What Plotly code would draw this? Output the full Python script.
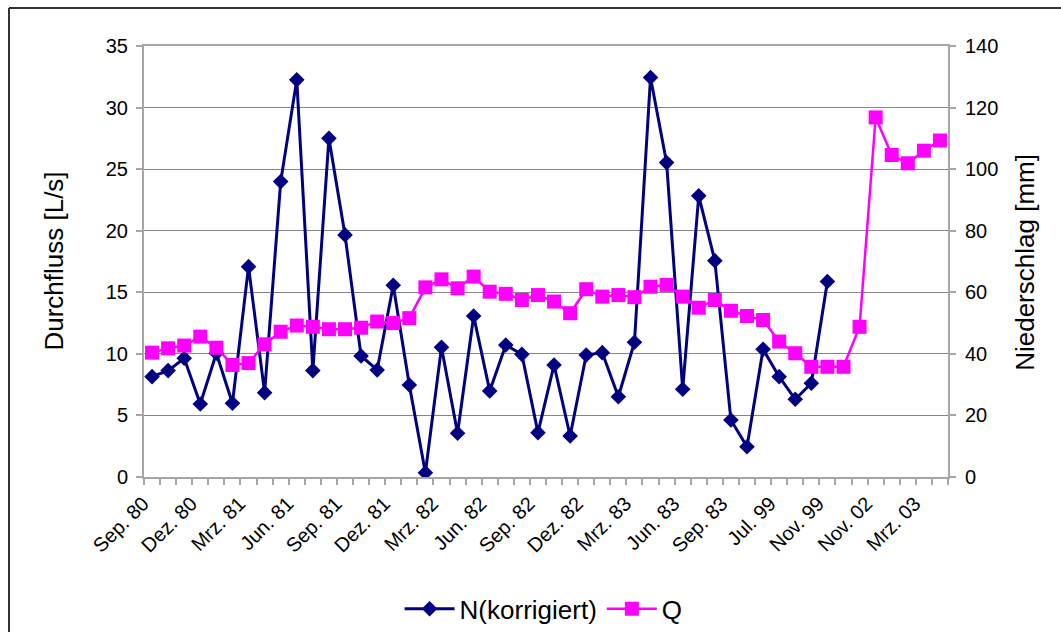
import plotly.graph_objects as go

# Monthly categories (labels shown on every third one)
months = [
    "Sep. 80", "Okt. 80", "Nov. 80", "Dez. 80", "Jan. 81", "Feb. 81",
    "Mrz. 81", "Apr. 81", "Mai 81", "Jun. 81", "Jul. 81", "Aug. 81",
    "Sep. 81", "Okt. 81", "Nov. 81", "Dez. 81", "Jan. 82", "Feb. 82",
    "Mrz. 82", "Apr. 82", "Mai 82", "Jun. 82", "Jul. 82", "Aug. 82",
    "Sep. 82", "Okt. 82", "Nov. 82", "Dez. 82", "Jan. 83", "Feb. 83",
    "Mrz. 83", "Apr. 83", "Mai 83", "Jun. 83", "Jul. 83", "Aug. 83",
    "Sep. 83", "Okt. 83", "Jun. 99", "Jul. 99", "Aug. 99", "Sep. 99",
    "Nov. 99", "Sep. 02", "Okt. 02", "Nov. 02", "Dez. 02", "Jan. 03",
    "Mrz. 03", "Apr. 03",
]

# N (korrigiert), left axis
n_korr = [
    8.15, 8.64, 9.64, 5.93, 10.05, 5.99, 17.08, 6.85, 23.99, 32.25,
    8.64, 27.5, 19.66, 9.83, 8.69, 15.57, 7.47, 0.35, 10.53, 3.55,
    13.08, 6.99, 10.72, 9.96, 3.6, 9.1, 3.33, 9.91, 10.1, 6.52,
    10.94, 32.44, 25.53, 7.12, 22.83, 17.57, 4.63, 2.46, 10.37, 8.15,
    6.31, 7.61, 15.87, None, None, None, None, None, None, None,
]

# Q, right axis
q_vals = [
    40.4, 41.8, 42.7, 45.6, 42.0, 36.4, 37.0, 43.1, 47.2, 49.2,
    48.8, 48.0, 48.0, 48.5, 50.5, 50.0, 51.6, 61.6, 64.2, 61.3,
    65.1, 60.2, 59.5, 57.5, 59.1, 57.0, 53.2, 61.0, 58.6, 59.1,
    58.4, 61.8, 62.4, 58.6, 55.0, 57.5, 54.0, 52.3, 51.0, 44.0,
    40.2, 35.8, 35.8, 35.8, 48.8, 116.8, 104.6, 101.9, 106.0, 109.3,
]

x_idx = list(range(len(months)))
label_pos = x_idx[::3]
label_txt = months[::3]

FONT = "Liberation Sans, Arial, sans-serif"
GRID = "#868686"
AXIS = "#a6a6a6"
TICK_SIZE = 20

fig = go.Figure()
fig.add_trace(go.Scatter(
    x=x_idx, y=n_korr, name="N(korrigiert)", mode="lines+markers",
    line=dict(color="#000080", width=3),
    marker=dict(symbol="diamond", size=12, color="#000080"),
    yaxis="y",
))
fig.add_trace(go.Scatter(
    x=x_idx, y=q_vals, name="Q", mode="lines+markers",
    line=dict(color="#ff00ff", width=2.5),
    marker=dict(symbol="square", size=14, color="#ff00ff"),
    yaxis="y2",
))

fig.update_layout(
    width=1061, height=632,
    margin=dict(l=144, r=113, t=46, b=155, autoexpand=False),
    paper_bgcolor="white", plot_bgcolor="white",
    font=dict(family=FONT, color="black", size=TICK_SIZE),
    showlegend=True,
    legend=dict(
        orientation="h", x=0.497, xanchor="center", y=-0.306, yanchor="middle",
        font=dict(size=26, family=FONT), itemwidth=50,
        bgcolor="rgba(0,0,0,0)",
    ),
    xaxis=dict(
        range=[-0.5, len(months) - 0.5], automargin=False,
        tickmode="array", tickvals=label_pos, ticktext=label_txt,
        tickangle=-45, ticks="", tickfont=dict(size=TICK_SIZE),
        ticklabelstandoff=5, ticklabelshift=-9,
        showgrid=False, zeroline=False,
        showline=True, linecolor=AXIS, linewidth=2, mirror=True,
        minor=dict(ticks="outside", tick0=-0.5, dtick=1, ticklen=6,
                   tickcolor=AXIS, tickwidth=1.5, showgrid=False),
    ),
    yaxis=dict(
        range=[0, 35], dtick=5, tick0=0, automargin=False,
        ticks="outside", ticklen=6, tickcolor=AXIS, tickwidth=1.5,
        showgrid=True, gridcolor=GRID, gridwidth=1,
        zeroline=False, showline=True, linecolor=AXIS, linewidth=2,
        tickfont=dict(size=TICK_SIZE), ticklabelstandoff=4,
    ),
    yaxis2=dict(
        range=[0, 140], dtick=20, tick0=0, overlaying="y", side="right",
        automargin=False,
        ticks="outside", ticklen=6, tickcolor=AXIS, tickwidth=1.5,
        showgrid=False, zeroline=False,
        showline=True, linecolor=AXIS, linewidth=2,
        tickfont=dict(size=TICK_SIZE), ticklabelstandoff=5,
    ),
    annotations=[
        dict(text="Durchfluss [L/s]", xref="paper", yref="paper",
             x=-0.112, y=0.502, textangle=-90, showarrow=False,
             xanchor="center", yanchor="middle", font=dict(size=26)),
        dict(text="Niederschlag [mm]", xref="paper", yref="paper",
             x=1.0958, y=0.497, textangle=-90, showarrow=False,
             xanchor="center", yanchor="middle", font=dict(size=26)),
    ],
    shapes=[
        # outer chart frame (left and top edges)
        dict(type="line", xref="paper", yref="paper",
             x0=-0.1679, x1=-0.1679, y0=1.0882, y1=-0.4,
             line=dict(color="#333333", width=2)),
        dict(type="line", xref="paper", yref="paper",
             x0=-0.1679, x1=1.2, y0=1.0882, y1=1.0882,
             line=dict(color="#333333", width=2)),
    ],
)

fig.write_html("out.html")
